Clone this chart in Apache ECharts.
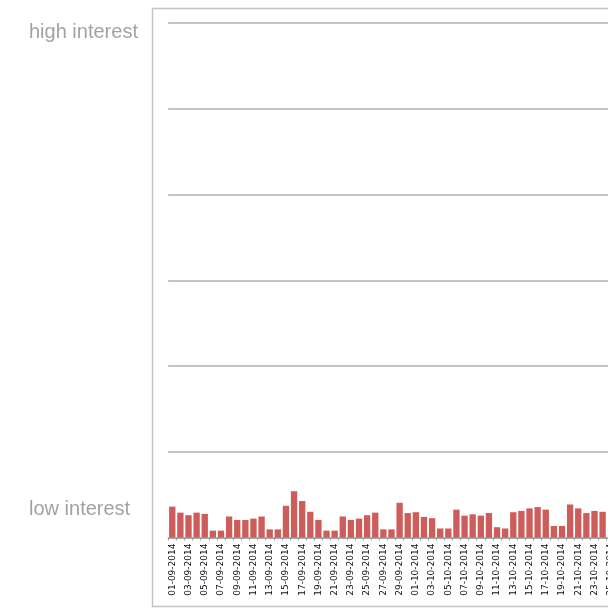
<!DOCTYPE html>
<html>
<head>
<meta charset="utf-8">
<script src="https://cdn.jsdelivr.net/npm/echarts@6/dist/echarts.min.js"></script>
<style>
html,body{margin:0;padding:0;background:#fff;overflow:hidden;width:608px;height:615px;}
#chart{width:700px;height:615px;}
</style>
</head>
<body>
<div id="chart"></div>
<script>
var categories = [
  '01-09-2014','02-09-2014','03-09-2014','04-09-2014','05-09-2014','06-09-2014','07-09-2014','08-09-2014',
  '09-09-2014','10-09-2014','11-09-2014','12-09-2014','13-09-2014','14-09-2014','15-09-2014','16-09-2014',
  '17-09-2014','18-09-2014','19-09-2014','20-09-2014','21-09-2014','22-09-2014','23-09-2014','24-09-2014',
  '25-09-2014','26-09-2014','27-09-2014','28-09-2014','29-09-2014','30-09-2014',
  '01-10-2014','02-10-2014','03-10-2014','04-10-2014','05-10-2014','06-10-2014','07-10-2014','08-10-2014',
  '09-10-2014','10-10-2014','11-10-2014','12-10-2014','13-10-2014','14-10-2014','15-10-2014','16-10-2014',
  '17-10-2014','18-10-2014','19-10-2014','20-10-2014','21-10-2014','22-10-2014','23-10-2014','24-10-2014',
  '25-10-2014','26-10-2014'
];
var interestValues = [
  7.2, 5.8, 5.2, 5.8, 5.5, 1.6, 1.6, 4.9,
  4.1, 4.1, 4.4, 4.9, 1.9, 1.9, 7.4, 10.8,
  8.5, 6.0, 4.1, 1.6, 1.6, 4.9, 4.1, 4.4,
  5.2, 5.8, 1.9, 1.9, 8.1, 5.7,
  5.9, 4.8, 4.5, 2.1, 2.1, 6.5, 5.1, 5.4,
  5.1, 5.7, 2.4, 2.1, 5.9, 6.2, 6.8, 7.1,
  6.5, 2.7, 2.7, 7.7, 6.8, 5.7, 6.2, 6.0
];
var interestLabels = ['high interest', 'low interest'];

var chart = echarts.init(document.getElementById('chart'), null, {renderer: 'canvas'});
chart.setOption({
  animation: false,
  backgroundColor: '#ffffff',
  grid: {left: 168.2, width: 454.7, top: 23, height: 514.5, containLabel: false},
  graphic: [
    {type: 'rect', silent: true, z: -1,
     shape: {x: 152.5, y: 8.5, width: 600, height: 598},
     style: {fill: 'none', stroke: '#c4c4c4', lineWidth: 1.5}},
    {type: 'text', left: 29, top: 22, silent: true,
     style: {text: interestLabels[0], fill: '#a2a2a2', font: '20px "Liberation Sans", Arial, sans-serif'}},
    {type: 'text', left: 29, top: 499, silent: true,
     style: {text: interestLabels[1], fill: '#a2a2a2', font: '20px "Liberation Sans", Arial, sans-serif'}}
  ],
  xAxis: {
    type: 'category',
    data: categories,
    boundaryGap: true,
    axisLine: {show: true, lineStyle: {color: '#a0a0a0', width: 1.5}},
    axisTick: {show: true, interval: 0, length: 3, lineStyle: {color: '#a0a0a0'}},
    axisLabel: {
      interval: 1, rotate: 90, margin: 6,
      fontFamily: 'DejaVu Sans', fontSize: 9, color: '#0d0d1a'
    },
    splitLine: {show: false}
  },
  yAxis: {
    type: 'value',
    min: 0, max: 120, interval: 20,
    axisLine: {show: false},
    axisTick: {show: false},
    axisLabel: {show: false},
    splitLine: {show: true, lineStyle: {color: '#c4c4c4', width: 2}}
  },
  series: [{
    type: 'bar',
    data: interestValues,
    barCategoryGap: '22%',
    itemStyle: {color: '#cd5d5a'}
  }]
});
</script>
</body>
</html>
